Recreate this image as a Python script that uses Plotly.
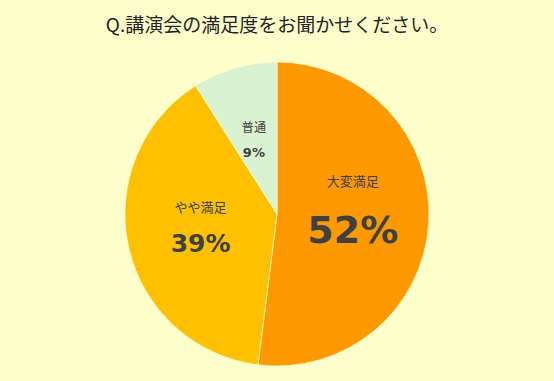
import plotly.graph_objects as go

labels = ["大変満足", "やや満足", "普通"]
values = [52, 39, 9]
pct_text = ["52%", "39%", "9%"]
colors = ["#FF9900", "#FFC000", "#D9F2D0"]
pct_sizes = [38, 25, 14]
base_sizes = [44, 31, 21]

def make_text(l, p, s):
    return (f"<span style='font-size:13px'>{l}</span><br>"
            f"<b><span style='font-size:{s}px'>{p}</span></b>")

common = dict(
    labels=labels, values=values, textposition="inside",
    insidetextorientation="horizontal", sort=False, direction="clockwise",
    rotation=0, showlegend=False,
)
font = dict(family="DejaVu Sans, Noto Sans CJK JP", size=base_sizes, color="#404040")
clear = dict(colors=["rgba(0,0,0,0)"] * 3, line=dict(width=0))

H = 341.0  # plot area height (381 - top margin 40)
fig = go.Figure()
# coloured pie (no text)
fig.add_trace(go.Pie(
    textinfo="none",
    marker=dict(colors=colors, line=dict(width=0.7, color="#FFFFCC")),
    hoverinfo="label+percent",
    domain=dict(x=[0, 1], y=[15 / H, 319 / H]),
    **common,
))
# transparent overlays, one per slice, carrying the slice labels
overlay_domains = [
    [21 / H, 325 / H],
    [17 / H, 321 / H],
    [55 / H, 267 / H],
]
for k in range(len(labels)):
    txt = [make_text(labels[i], pct_text[i], pct_sizes[i]) if i == k else ""
           for i in range(len(labels))]
    fig.add_trace(go.Pie(
        text=txt, textinfo="text", textfont=font, marker=clear,
        hoverinfo="skip",
        domain=dict(x=[0, 1], y=overlay_domains[k]),
        **common,
    ))

fig.update_layout(
    width=554, height=381,
    paper_bgcolor="#FFFFCC",
    plot_bgcolor="#FFFFCC",
    margin=dict(l=0, r=0, t=40, b=0),
    title=dict(
        text="Q.講演会の満足度をお聞かせください。",
        x=0.5, xanchor="center",
        y=1 - 25 / 381, yanchor="middle", yref="container",
        font=dict(family="Noto Sans CJK JP", size=19, color="#222222"),
    ),
)

fig.write_html("out.html", config={"displayModeBar": False},
               post_script="document.body.style.margin='0';")
